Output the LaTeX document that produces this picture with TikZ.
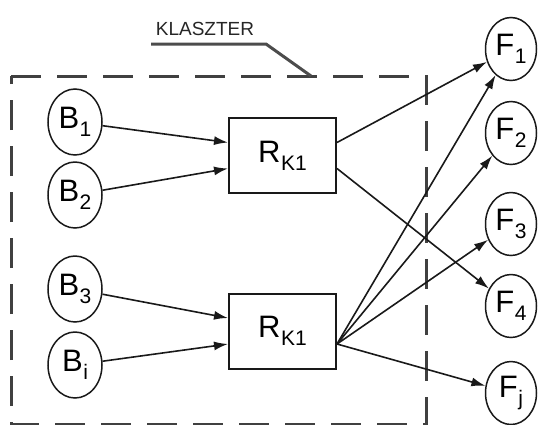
\documentclass[tikz,border=0pt]{standalone}
\usepackage{fontspec}
\setmainfont{Liberation Sans}
\usetikzlibrary{shapes.geometric,arrows.meta}
\newcommand{\idx}[2]{#1\kern0.5pt\raisebox{-8pt}{\fontsize{21}{21}\selectfont #2}}

\begin{document}
\begin{tikzpicture}[x=1pt, y=-1pt]
    % Styles
    \tikzstyle{source} = [ellipse, draw=black!90, line width=1.5pt, minimum width=54pt, minimum height=66pt, inner sep=0pt, font=\fontsize{31}{34}\selectfont]
    \tikzstyle{sink} = [source, minimum width=51pt, minimum height=63pt]
    \tikzstyle{router} = [rectangle, draw=black!90, line width=2pt, minimum width=107pt, minimum height=75pt, inner sep=0pt, font=\fontsize{31}{34}\selectfont]
    \tikzstyle{arrow} = [-{Latex[length=14pt,width=9pt]}, line width=1.6pt, draw=black!90]
    \tikzstyle{cluster} = [dash pattern=on 30pt off 16pt, line width=3pt, draw=black!75]
    \tikzstyle{leader} = [line width=3pt, draw=black!70]

    \useasboundingbox (0,0) rectangle (538,424);

    % Cluster frame and its tag
    \draw[cluster] (11,76) -- (426,76) -- (426,424) -- (11,424) -- cycle;
    \node[font=\fontsize{19}{21}\selectfont, text=black!85] (klaszter) at (205,29) {KLASZTER};
    \coordinate (tag) at (311,76);
    \draw[leader] (151,44) -- (266,44) -- (tag);

    % Inputs
    \node[source] (B1) at (75,122) {\idx{B}{1}};
    \node[source] (B2) at (75,195) {\idx{B}{2}};
    \node[source] (B3) at (75,289) {\idx{B}{3}};
    \node[source] (Bi) at (75,365) {\idx{B}{i}};

    % Routers
    \node[router] (R1) at (282.5,155.5) {\idx{R}{K1}};
    \node[router] (R2) at (282.5,331) {\idx{R}{K1}};

    % Outputs
    \node[sink] (F1) at (511,49) {\idx{F}{1}};
    \node[sink] (F2) at (511,133) {\idx{F}{2}};
    \node[sink] (F3) at (511,224) {\idx{F}{3}};
    \node[sink] (F4) at (511,306) {\idx{F}{4}};
    \node[sink] (Fj) at (511,393) {\idx{F}{j}};

    % Arrows into routers
    \draw[arrow] (B1) -- ([yshift=13pt]R1.west);
    \draw[arrow] (B2) -- ([yshift=-13pt]R1.west);
    \draw[arrow] (B3) -- ([yshift=13pt]R2.west);
    \draw[arrow] (Bi) -- ([yshift=-13pt]R2.west);

    % Arrows out of routers
    \draw[arrow] ([yshift=13pt]R1.east) -- (F1);
    \draw[arrow] ([yshift=-13pt]R1.east) -- (F4);
    \foreach \f in {F1,F2,F3,Fj}
        \draw[arrow] ([yshift=-13pt]R2.east) -- (\f);
\end{tikzpicture}
\end{document}
